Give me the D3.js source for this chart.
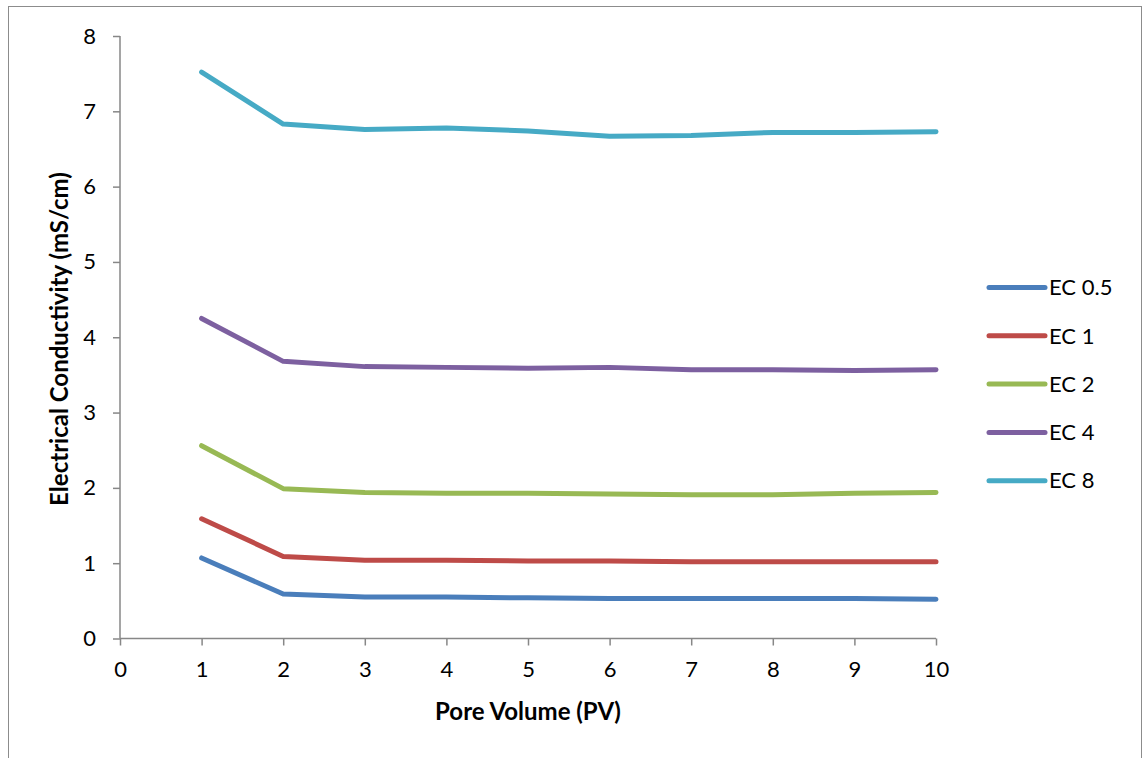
<!DOCTYPE html>
<html>
<head>
<meta charset="utf-8">
<script src="https://cdn.jsdelivr.net/npm/d3@7"></script>
<style>
  body { margin: 0; background: #fff; }
  svg { display: block; font-family: Lato, "Open Sans", sans-serif; }
</style>
</head>
<body>
<div id="chart"></div>
<script>
// Data
var poreVolume = [1, 2, 3, 4, 5, 6, 7, 8, 9, 10];
var seriesNames = ['EC 0.5', 'EC 1', 'EC 2', 'EC 4', 'EC 8'];
var ec05 = [1.07, 0.59, 0.55, 0.55, 0.54, 0.53, 0.53, 0.53, 0.53, 0.52];
var ec1  = [1.59, 1.09, 1.04, 1.04, 1.03, 1.03, 1.02, 1.02, 1.02, 1.02];
var ec2  = [2.56, 1.99, 1.94, 1.93, 1.93, 1.92, 1.91, 1.91, 1.93, 1.94];
var ec4  = [4.25, 3.68, 3.61, 3.60, 3.59, 3.60, 3.57, 3.57, 3.56, 3.57];
var ec8  = [7.52, 6.83, 6.76, 6.78, 6.74, 6.67, 6.68, 6.72, 6.72, 6.73];
var xTicks = [0, 1, 2, 3, 4, 5, 6, 7, 8, 9, 10];
var yTicks = [0, 1, 2, 3, 4, 5, 6, 7, 8];
var colors = ['#4a7ebb', '#be4b48', '#98b954', '#7d60a0', '#46aac5'];

var series = [ec05, ec1, ec2, ec4, ec8].map(function(vals, i) {
  return { name: seriesNames[i], color: colors[i], values: vals };
});

var width = 1143, height = 758;

var svg = d3.select('#chart').append('svg')
  .attr('width', width)
  .attr('height', height);

// outer frame
svg.append('rect')
  .attr('x', 8.5).attr('y', 6.5)
  .attr('width', 1133).attr('height', 770)
  .attr('fill', 'none')
  .attr('stroke', '#8c8c8c')
  .attr('stroke-width', 1);

var x = d3.scaleLinear().domain([0, 10]).range([120, 936]);
var y = d3.scaleLinear().domain([0, 8]).range([638.5, 36]);

// Axes
var xAxis = svg.append('g')
  .attr('transform', 'translate(0,' + y(0) + ')')
  .call(d3.axisBottom(x).tickValues(xTicks).tickSize(7).tickPadding(16).tickFormat(d3.format('d')));

var yAxis = svg.append('g')
  .attr('transform', 'translate(' + x(0) + ',0)')
  .call(d3.axisLeft(y).tickValues(yTicks).tickSize(7).tickPadding(17).tickFormat(d3.format('d')));

[xAxis, yAxis].forEach(function(g) {
  g.select('.domain').attr('stroke', '#878787').attr('stroke-width', 1.5);
  g.selectAll('.tick line').attr('stroke', '#878787').attr('stroke-width', 1.5);
  g.selectAll('.tick text')
    .attr('fill', '#000')
    .style('font-size', '22px')
    .style('font-family', 'Lato, "Open Sans", sans-serif');
});
xAxis.select('.domain').attr('d', 'M' + x(0) + ',0H' + x(10));
yAxis.select('.domain').attr('d', 'M0,' + y(8) + 'V' + y(0));

// Axis titles
svg.append('text')
  .attr('x', 528).attr('y', 720)
  .attr('text-anchor', 'middle')
  .style('font-size', '24px')
  .style('font-weight', 'bold')
  .text('Pore Volume (PV)');

svg.append('text')
  .attr('transform', 'translate(68,339) rotate(-90)')
  .attr('text-anchor', 'middle')
  .style('font-size', '24px')
  .style('font-weight', 'bold')
  .text('Electrical Conductivity (mS/cm)');

// Lines
var line = d3.line()
  .x(function(d, i) { return x(poreVolume[i]); })
  .y(function(d) { return y(d); });

svg.selectAll('.series')
  .data(series)
  .enter().append('path')
    .attr('class', 'series')
    .attr('d', function(d) { return line(d.values); })
    .attr('fill', 'none')
    .attr('stroke', function(d) { return d.color; })
    .attr('stroke-width', 5)
    .attr('stroke-linejoin', 'round')
    .attr('stroke-linecap', 'round');

// Legend
var legend = svg.selectAll('.legend')
  .data(series)
  .enter().append('g')
    .attr('class', 'legend')
    .attr('transform', function(d, i) { return 'translate(989,' + (287.5 + i * 48.3) + ')'; });

legend.append('line')
  .attr('x1', 0).attr('x2', 56)
  .attr('stroke', function(d) { return d.color; })
  .attr('stroke-width', 5)
  .attr('stroke-linecap', 'round');

legend.append('text')
  .attr('x', 60).attr('dy', '0.35em')
  .style('font-size', '22px')
  .text(function(d) { return d.name; });
</script>
</body>
</html>
